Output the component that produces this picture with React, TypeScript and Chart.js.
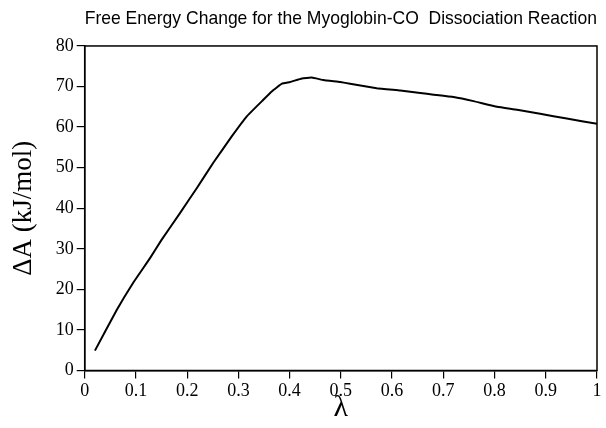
import React, { useEffect, useRef } from "react";
import { Chart, registerables } from "chart.js";

Chart.register(...registerables);

const lambdaValues = [0.02, 0.0625, 0.095, 0.1275, 0.15, 0.186, 0.219, 0.251, 0.287, 0.316, 0.346, 0.365, 0.385, 0.401, 0.424, 0.443, 0.466, 0.499, 0.518, 0.57, 0.616, 0.655, 0.681, 0.72, 0.759, 0.805, 0.844, 0.889, 0.941, 1.0];
const deltaA = [4.9, 14.9, 21.7, 27.7, 32.2, 38.8, 45.0, 51.2, 57.7, 62.6, 66.4, 68.8, 70.7, 71.1, 72.0, 72.2, 71.6, 71.1, 70.7, 69.6, 69.0, 68.4, 68.0, 67.4, 66.4, 65.0, 64.3, 63.3, 62.1, 60.8];

const titleText = "Free Energy Change for the Myoglobin-CO  Dissociation Reaction";
const xTitle = "λ";
const yTitle = "ΔA (kJ/mol)";

const serif = "Liberation Serif, Times New Roman, serif";

const boxPlugin = {
  id: "frameBox",
  afterDatasetsDraw(chart: any) {
    const { ctx, chartArea } = chart;
    ctx.save();
    ctx.strokeStyle = "#000";
    ctx.lineWidth = 1.5;
    ctx.strokeRect(chartArea.left, chartArea.top, chartArea.right - chartArea.left, chartArea.bottom - chartArea.top);
    ctx.restore();
  },
};

export default function App() {
  const ref = useRef<HTMLCanvasElement>(null);
  useEffect(() => {
    if (!ref.current) return;
    const chart = new Chart(ref.current, {
      type: "line",
      data: {
        datasets: [
          {
            data: lambdaValues.map((x, i) => ({ x, y: deltaA[i] })),
            borderColor: "#000",
            borderWidth: 2,
            pointRadius: 0,
            tension: 0.1,
            fill: false,
          },
        ],
      },
      plugins: [boxPlugin],
      options: {
        responsive: false,
        animation: false,
        layout: { padding: { left: 0, right: 9, top: 0, bottom: 0 } },
        plugins: {
          legend: { display: false },
          tooltip: { enabled: false },
          title: {
            display: true,
            text: titleText,
            fullSize: false,
            color: "#000",
            font: { family: "Liberation Sans, Arial, sans-serif", size: 17.8, weight: "normal" },
            padding: { top: 8, bottom: 16.6 },
          },
        },
        scales: {
          x: {
            type: "linear",
            min: 0,
            max: 1,
            afterFit(scale: any) {
              scale.height = 57.5;
            },
            ticks: {
              stepSize: 0.1,
              color: "#000",
              padding: 2,
              font: { family: serif, size: 18 },
              callback: (v: any) => String(Number(Number(v).toFixed(1))),
            },
            grid: { drawOnChartArea: false, drawTicks: true, tickLength: 8, color: "#000", lineWidth: 1.2 },
            border: { display: true, color: "#000", width: 1.5 },
            title: {
              display: true,
              text: xTitle,
              color: "#000",
              font: { family: serif, size: 30 },
              padding: { top: 0, bottom: 2 },
            },
          },
          y: {
            min: 0,
            max: 80,
            afterFit(scale: any) {
              scale.width = 84.7;
            },
            ticks: {
              stepSize: 10,
              color: "#000",
              padding: 3,
              font: { family: serif, size: 18 },
            },
            grid: { drawOnChartArea: false, drawTicks: true, tickLength: 8, color: "#000", lineWidth: 1.2 },
            border: { display: true, color: "#000", width: 1.5 },
            title: {
              display: true,
              text: yTitle,
              color: "#000",
              font: { family: serif, size: 27 },
              padding: { top: 8, bottom: 0 },
            },
          },
        },
      },
    });
    return () => chart.destroy();
  }, []);
  return (
    <div style={{ position: "fixed", left: 0, top: 0, width: 606, height: 428, background: "#fff" }}>
      <canvas ref={ref} width={606} height={428} style={{ width: 606, height: 428, display: "block" }} />
    </div>
  );
}
